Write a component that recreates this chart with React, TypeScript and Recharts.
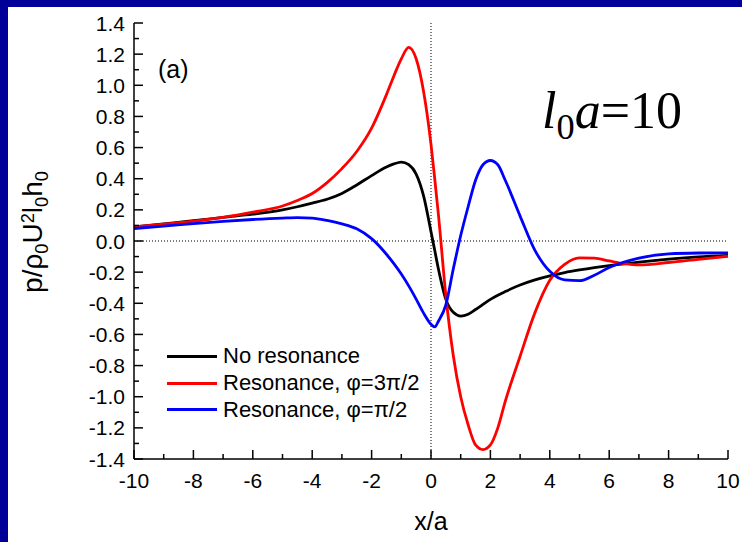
import React from 'react';
import { LineChart, Line, XAxis, YAxis, ReferenceLine, Legend } from 'recharts';

const xValues = [-10, -9, -8, -7, -6, -5, -4.5, -4, -3.5, -3, -2.5, -2, -1.5, -1.25, -1, -0.75, -0.5, -0.25, 0, 0.125, 0.25, 0.5, 0.75, 1, 1.25, 1.5, 1.75, 2, 2.25, 2.5, 3, 3.5, 4, 4.5, 5, 5.5, 6, 6.5, 7, 8, 9, 10];

const noResonance = [0.09, 0.11, 0.13, 0.152, 0.172, 0.2, 0.22, 0.243, 0.268, 0.305, 0.36, 0.42, 0.475, 0.495, 0.507, 0.49, 0.43, 0.29, 0.06, -0.06, -0.18, -0.375, -0.458, -0.482, -0.47, -0.44, -0.407, -0.375, -0.348, -0.325, -0.283, -0.25, -0.224, -0.203, -0.186, -0.171, -0.158, -0.147, -0.136, -0.117, -0.102, -0.092];

const resonance3Pi2 = [0.09, 0.108, 0.128, 0.152, 0.185, 0.225, 0.26, 0.305, 0.375, 0.465, 0.575, 0.725, 0.94, 1.06, 1.17, 1.243, 1.17, 0.96, 0.62, 0.4, 0.17, -0.35, -0.735, -1.0, -1.18, -1.31, -1.34, -1.31, -1.2, -1.03, -0.74, -0.46, -0.252, -0.15, -0.108, -0.11, -0.128, -0.145, -0.153, -0.138, -0.118, -0.098];

const resonancePi2 = [0.08, 0.095, 0.112, 0.126, 0.138, 0.147, 0.15, 0.147, 0.132, 0.11, 0.078, 0.015, -0.085, -0.145, -0.212, -0.288, -0.373, -0.463, -0.535, -0.552, -0.515, -0.41, -0.18, 0.035, 0.22, 0.39, 0.49, 0.517, 0.49, 0.39, 0.16, -0.06, -0.195, -0.25, -0.255, -0.22, -0.17, -0.135, -0.11, -0.083, -0.077, -0.076];

const xTicks = [-10, -9, -8, -7, -6, -5, -4, -3, -2, -1, 0, 1, 2, 3, 4, 5, 6, 7, 8, 9, 10];
const yTickTenths = [-14, -13, -12, -11, -10, -9, -8, -7, -6, -5, -4, -3, -2, -1, 0, 1, 2, 3, 4, 5, 6, 7, 8, 9, 10, 11, 12, 13, 14];
const yTicks = yTickTenths.map((t) => t / 10);

const seriesNames = ['No resonance', 'Resonance, \u03c6=3\u03c0/2', 'Resonance, \u03c6=\u03c0/2'];
const seriesColors = ['#000000', '#ff0000', '#0000ff'];

const data = xValues.map((x, i) => ({
  x,
  a: noResonance[i],
  b: resonance3Pi2[i],
  c: resonancePi2[i],
}));

const FONT = '"Liberation Sans", Arial, Helvetica, sans-serif';
const SERIF = '"Liberation Serif", "Times New Roman", serif';

const LeftTick = (props: any) => {
  const { x, y, payload } = props;
  const t = Math.round(payload.value * 10);
  const major = t % 2 === 0;
  return (
    <g>
      <line x1={x} x2={x + (major ? 9 : 5)} y1={y} y2={y} stroke="#000" strokeWidth={1.5} />
      {major && (
        <text x={x - 9} y={y} dy="0.36em" textAnchor="end" fontFamily={FONT} fontSize={21} fill="#000">
          {(t / 10).toFixed(1)}
        </text>
      )}
    </g>
  );
};

const RightTick = (props: any) => {
  const { x, y, payload } = props;
  const t = Math.round(payload.value * 10);
  const major = t % 2 === 0;
  return <line x1={x} x2={x - (major ? 9 : 5)} y1={y} y2={y} stroke="#000" strokeWidth={1.5} />;
};

const BottomTick = (props: any) => {
  const { x, y, payload } = props;
  const v = Math.round(payload.value);
  const major = v % 2 === 0;
  return (
    <g>
      <line x1={x} x2={x} y1={y} y2={y - (major ? 9 : 5)} stroke="#000" strokeWidth={1.5} />
      {major && (
        <text x={x} y={y + 29} textAnchor="middle" fontFamily={FONT} fontSize={21} fill="#000">
          {String(v)}
        </text>
      )}
    </g>
  );
};

const TopTick = (props: any) => {
  const { x, y, payload } = props;
  const v = Math.round(payload.value);
  const major = v % 2 === 0;
  return <line x1={x} x2={x} y1={y} y2={y + (major ? 9 : 5)} stroke="#000" strokeWidth={1.5} />;
};

const renderLegend = (props: any) => {
  const payload = props.payload || [];
  return (
    <div style={{ fontFamily: FONT, fontSize: 22, color: '#000' }}>
      {payload.map((e: any, i: number) => (
        <div key={i} style={{ display: 'flex', alignItems: 'center', height: 26.7, whiteSpace: 'nowrap' }}>
          <div style={{ width: 50, height: 3, background: e.color, marginRight: 6 }} />
          <span>{e.value}</span>
        </div>
      ))}
    </div>
  );
};

const sub: React.CSSProperties = { fontSize: '0.65em', position: 'relative', top: '0.35em' };
const sup: React.CSSProperties = { fontSize: '0.65em', position: 'relative', top: '-0.45em' };

export default function App() {
  return (
    <div style={{ position: 'fixed', left: 0, top: 0, width: 742, height: 542, background: '#000099', overflow: 'hidden' }}>
      <div style={{ position: 'absolute', left: 8, top: 7, width: 734, height: 535, background: '#ffffff' }} />
      <div style={{ position: 'absolute', left: 0, top: 0 }}>
        <LineChart width={742} height={542} data={data} margin={{ top: 23, right: 14, left: 0, bottom: 0 }}>
          <XAxis
            dataKey="x"
            type="number"
            domain={[-10, 10]}
            ticks={xTicks}
            interval={0}
            height={83}
            tickSize={0}
            tickMargin={0}
            tickLine={false}
            axisLine={{ stroke: '#000', strokeWidth: 1.5 }}
            tick={<BottomTick />}
          />
          <XAxis
            xAxisId="top"
            orientation="top"
            dataKey="x"
            type="number"
            domain={[-10, 10]}
            ticks={xTicks}
            interval={0}
            height={0}
            tickSize={0}
            tickMargin={0}
            tickLine={false}
            axisLine={{ stroke: '#000', strokeWidth: 1.5 }}
            tick={<TopTick />}
          />
          <YAxis
            type="number"
            domain={[-1.4, 1.4]}
            ticks={yTicks}
            interval={0}
            width={134}
            tickSize={0}
            tickMargin={0}
            tickLine={false}
            axisLine={{ stroke: '#000', strokeWidth: 1.5 }}
            tick={<LeftTick />}
          />
          <YAxis
            yAxisId="right"
            orientation="right"
            type="number"
            domain={[-1.4, 1.4]}
            ticks={yTicks}
            interval={0}
            width={0}
            tickSize={0}
            tickMargin={0}
            tickLine={false}
            axisLine={{ stroke: '#000', strokeWidth: 1.5 }}
            tick={<RightTick />}
          />
          <ReferenceLine x={0} stroke="#000" strokeWidth={1} strokeDasharray="1 2" />
          <ReferenceLine y={0} stroke="#000" strokeWidth={1} strokeDasharray="1 2" />
          <Line type="monotone" dataKey="a" name={seriesNames[0]} stroke={seriesColors[0]} strokeWidth={2.8} dot={false} isAnimationActive={false} />
          <Line type="monotone" dataKey="b" name={seriesNames[1]} stroke={seriesColors[1]} strokeWidth={2.8} dot={false} isAnimationActive={false} />
          <Line type="monotone" dataKey="c" name={seriesNames[2]} stroke={seriesColors[2]} strokeWidth={2.8} dot={false} isAnimationActive={false} />
          <Legend
            layout="vertical"
            align="center"
            verticalAlign="middle"
            content={renderLegend}
            wrapperStyle={{ position: 'absolute', left: 167, top: 343, width: 'auto', height: 'auto' }}
          />
        </LineChart>
      </div>
      <div style={{ position: 'absolute', left: 158, top: 57, fontFamily: FONT, fontSize: 25, lineHeight: 1, color: '#000' }}>(a)</div>
      <div style={{ position: 'absolute', left: 542, top: 85, fontFamily: SERIF, fontSize: 52, lineHeight: 1, color: '#000', whiteSpace: 'nowrap' }}>
        <span style={{ fontStyle: 'italic' }}>l</span>
        <span style={{ fontSize: '0.7em', position: 'relative', top: '0.3em' }}>0</span>
        <span style={{ fontStyle: 'italic' }}>a</span>=10
      </div>
      <div style={{ position: 'absolute', left: 431, top: 509, transform: 'translateX(-50%)', fontFamily: FONT, fontSize: 25, lineHeight: 1, color: '#000', whiteSpace: 'nowrap' }}>x/a</div>
      <div style={{ position: 'absolute', left: 33, top: 232, transform: 'translate(-50%, -50%) rotate(-90deg)', fontFamily: FONT, fontSize: 28, lineHeight: 1, color: '#000', whiteSpace: 'nowrap' }}>
        p/&rho;<span style={sub}>0</span>U<span style={sup}>2</span>l<span style={sub}>0</span>h<span style={sub}>0</span>
      </div>
    </div>
  );
}
